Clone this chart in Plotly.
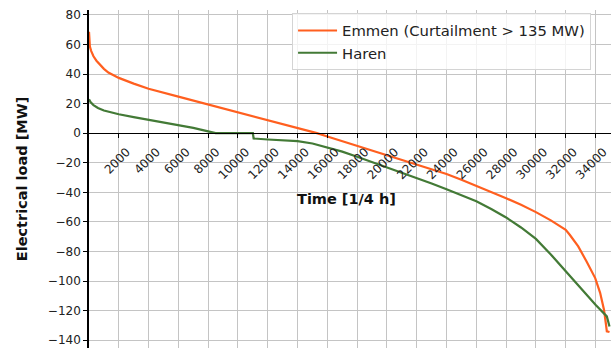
import plotly.graph_objects as go

# ---- data ----
emmen_x = [0, 20, 60, 150, 300, 500, 750, 1000, 1300, 1600, 2000, 3000, 4000, 6000,
           8000, 10000, 12000, 14000, 15300, 16000, 18000, 20000, 22000, 24000, 25000,
           26000, 27000, 28000, 29000, 30000, 31000, 32000, 32270, 32840, 33400, 33980,
           34310, 34570, 34690, 34760, 34940]
emmen_y = [68.6, 62, 58.5, 55.5, 52, 49, 46, 43.5, 41, 39.3, 37.4, 33.5, 30, 24.7,
           19.5, 14.1, 8.8, 3.4, 0, -2.3, -8.5, -14.8, -21, -27.6, -31.5,
           -35.6, -39.7, -44, -48.5, -53.4, -59, -65.3, -68.7, -76.6, -86.8, -98,
           -108, -119.4, -128.4, -134, -134.5]

haren_x = [0, 100, 300, 600, 1000, 1500, 2000, 3000, 4000, 6000, 7000, 8000, 8500,
           11000, 11050, 12000, 14000, 15000, 16000, 17000, 18000, 20000, 22000, 23000,
           24000, 25000, 26000, 27000, 28000, 29000, 30000, 31000, 32000, 33000, 34000,
           34760, 34940]
haren_y = [23, 21, 19, 17, 15.3, 14, 12.8, 10.8, 9, 5.6, 3.6, 1.2, 0,
           0, -3.6, -4.3, -5.4, -7, -9.5, -12.5, -16, -23, -30.5, -34,
           -38, -41.8, -46, -51.3, -57, -63.8, -71.5, -82, -93.5, -105, -116,
           -123.9, -130.7]

x_ticks = list(range(2000, 34001, 2000))
y_ticks = list(range(-140, 81, 20))
x_range = [0, 35040]
y_range = [-145.3, 83.3]

ORANGE = "#ff5f1f"
GREEN = "#437a36"
FONT = "DejaVu Sans"

fig = go.Figure()
fig.add_trace(go.Scatter(x=emmen_x, y=emmen_y, mode="lines",
                         name="Emmen (Curtailment > 135 MW)",
                         line=dict(color=ORANGE, width=2.2)))
fig.add_trace(go.Scatter(x=haren_x, y=haren_y, mode="lines", name="Haren",
                         line=dict(color=GREEN, width=2.2)))

zero_pos = (0 - y_range[0]) / (y_range[1] - y_range[0])

fig.update_layout(
    width=611, height=352,
    margin=dict(l=89, r=0, t=10, b=4),
    paper_bgcolor="white", plot_bgcolor="white",
    font=dict(family=FONT, size=12, color="#222222"),
    showlegend=True,
    legend=dict(x=0.389, y=0.99, xanchor="left", yanchor="top",
                bgcolor="rgba(255,255,255,0.8)", bordercolor="#d4d4d4", borderwidth=1,
                font=dict(size=14.8, color="#222222"), tracegroupgap=0,
                itemwidth=39),
    xaxis=dict(range=x_range, tickvals=x_ticks, ticktext=[str(v) for v in x_ticks],
               tickangle=-45, showgrid=True, gridcolor="#c4c4c4", gridwidth=1,
               showline=True, linecolor="black", linewidth=1.3,
               ticks="outside", ticklen=4, tickcolor="black",
               anchor="free", position=zero_pos, zeroline=False,
               ticklabelshift=8, ticklabelstandoff=2, automargin=False,
               tickfont=dict(size=12, color="#222222")),
    yaxis=dict(range=y_range, tickvals=y_ticks, showgrid=True, gridcolor="#c4c4c4",
               gridwidth=1, showline=True, linecolor="black", linewidth=1.6,
               ticks="outside", ticklen=4, tickcolor="black", zeroline=False,
               automargin=False,
               tickfont=dict(size=12, color="#222222")),
    annotations=[
        dict(text="<b>Time [1/4 h]</b>", xref="paper", yref="paper", x=0.493, y=0.441,
             xanchor="center", yanchor="middle", showarrow=False,
             font=dict(size=14.5, color="#111111")),
        dict(text="<b>Electrical load [MW]</b>", xref="paper", yref="paper",
             x=-0.128, y=0.5, xanchor="center", yanchor="middle", textangle=-90,
             showarrow=False, font=dict(size=14.5, color="#111111")),
    ],
)

fig.write_html("out.html", config={"displayModeBar": False},
               post_script="document.body.style.margin='0';")
